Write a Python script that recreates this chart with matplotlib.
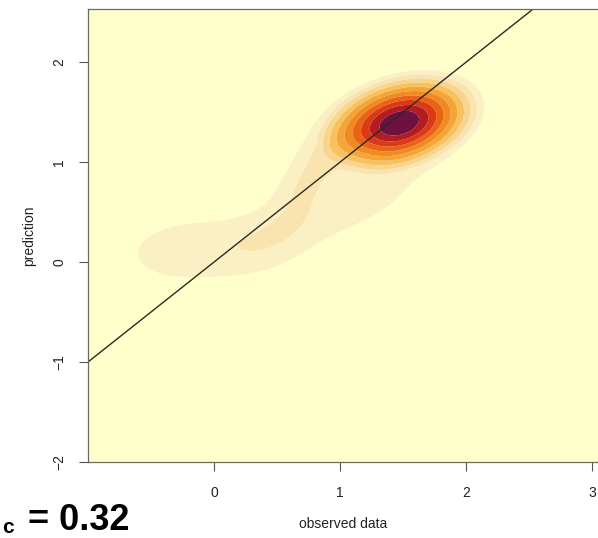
import numpy as np
import matplotlib
matplotlib.use("Agg")
import matplotlib.pyplot as plt

# Main density peak: centre, outer half-extent, tilt, top rounding, weight
main_x, main_y = 1.47, 1.39
main_hx, main_hy = 0.66, 0.52
main_rho = 0.30
main_round = 0.35
main_w = 1.0

# Secondary (pale) lobes: centre x, centre y, spread x, spread y, correlation, weight
comp_x   = [0.75, 1.12, -0.25, 0.40]
comp_y   = [0.85, 0.58,  0.12, 0.20]
comp_sx  = [0.20, 0.38,  0.38, 0.30]
comp_sy  = [0.30, 0.27,  0.26, 0.25]
comp_rho = [0.60, 0.60,  0.15, 0.30]
comp_w   = [0.17, 0.13,  0.14, 0.13]

band_colors = ["#FFFFCC", "#FBEFC4", "#F9E4B0", "#F8D58E", "#F7C25E", "#F4A535",
               "#F08A22", "#EA6416", "#DC3A14", "#B41C22", "#6E1040"]

x_ticks = [0, 1, 2, 3]
y_ticks = [-2, -1, 0, 1, 2]
identity_line = [-1.0, 3.1]
stat_label = "= 0.32"
stat_sub = "c"

plt.rcParams['font.family'] = ['Liberation Sans', 'DejaVu Sans']

fig = plt.figure(figsize=(5.98, 5.38), dpi=100)
W, H = 598, 538
ax = fig.add_axes([88 / W, (H - 462) / H, 517 / W, (462 - 9) / H])

gx = np.linspace(-1.0, 3.1, 500)
gy = np.linspace(-2.0, 2.53, 500)
X, Y = np.meshgrid(gx, gy)


def mahal(cx, cy, sx, sy, r):
    dx = (X - cx) / sx
    dy = (Y - cy) / sy
    return (dx**2 - 2 * r * dx * dy + dy**2) / (1 - r**2)


# rounded-cone profile for the main peak (even ring spacing), smooth tail outside
s = np.sqrt(mahal(main_x, main_y, main_hx, main_hy, main_rho))
c = main_round
g = (np.sqrt(s**2 + c**2) - c) / (np.sqrt(1 + c**2) - c)
inner = 1 - 0.9 * g
outer = 0.1 * np.exp(-(s - 1) / 0.2)
Z = main_w * np.where(s < 1, inner, outer)
for cx, cy, sx, sy, r, w in zip(comp_x, comp_y, comp_sx, comp_sy, comp_rho, comp_w):
    Z += w * np.exp(-0.5 * mahal(cx, cy, sx, sy, r))

levels = np.linspace(0, Z.max() * 1.0001, len(band_colors) + 1)
ax.contourf(X, Y, Z, levels=levels, colors=band_colors, antialiased=True)

ax.plot(identity_line, identity_line, color="#2a2a20", lw=1.0)

ax.set_xlim(-1.0, 3.1)
ax.set_ylim(-2.0, 2.53)
ax.set_xticks(x_ticks)
ax.set_yticks(y_ticks)
ax.tick_params(axis='both', direction='out', length=6.5, width=0.8, color="#555555",
               labelsize=10, labelcolor="#222222")
ax.tick_params(axis='x', pad=11)
ax.tick_params(axis='y', pad=9)
for lab in ax.get_yticklabels():
    lab.set_rotation(90)
    lab.set_va('center')
for sp in ax.spines.values():
    sp.set_color("#6b6b5a")
    sp.set_linewidth(0.9)

ax.set_xlabel("observed data", fontsize=10, color="#222222")
ax.xaxis.set_label_coords((343 - 88) / 517, (462 - 517) / 453)
ax.set_ylabel("prediction", fontsize=10, color="#222222")
ax.yaxis.set_label_coords((36 - 88) / 517, 0.5)

fig.text(2 / W, (H - 533) / H, stat_sub, fontsize=15, weight='bold', ha='left', va='baseline')
fig.text(28 / W, (H - 530) / H, stat_label, fontsize=26, weight='bold', ha='left', va='baseline')

fig.savefig("out.png", dpi=100)
